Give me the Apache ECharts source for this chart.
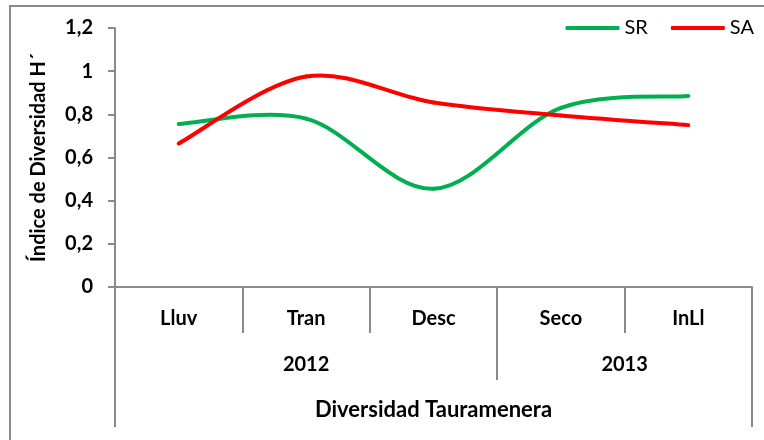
<!DOCTYPE html>
<html>
<head>
<meta charset="utf-8">
<script src="https://cdn.jsdelivr.net/npm/echarts@6/dist/echarts.min.js"></script>
<style>
  html, body { margin: 0; padding: 0; background: #fff; }
  #frame { position: absolute; left: 9px; top: 5px; width: 900px; height: 600px;
           border-left: 2px solid #8a8a8a; border-top: 2px solid #8a8a8a; }
  #chart { position: absolute; left: 0; top: 0; width: 764px; height: 440px; }
</style>
</head>
<body>
<div id="frame"></div>
<div id="chart"></div>
<script>
// datos
const categories = ["Lluv", "Tran", "Desc", "Seco", "InLl"];
const years = ["2012", "2013"];
const yearSpans = [3, 2];
const seriesNames = ["SR", "SA"];
const srValues = [0.755, 0.78, 0.455, 0.83, 0.885];
const saValues = [0.665, 0.975, 0.855, 0.795, 0.75];
const yTickLabels = ["0", "0,2", "0,4", "0,6", "0,8", "1", "1,2"];
const xTitle = "Diversidad Tauramenera";
const yTitle = "Índice de Diversidad H´";

const colors = ["#00B050", "#FF0000"];
const font = "Lato";
const axisColor = "#8a8a8a";

// limites y centros de los grupos de años
let yearBounds = [0];
let yearCenters = [];
yearSpans.forEach(function (s, i) {
  yearCenters.push(yearBounds[i] + s / 2);
  yearBounds.push(yearBounds[i] + s);
});
const total = categories.length;

// curva suavizada tipo Excel (bezier por tramos), usando las escalas del eje
function smoothLine(values, color) {
  return function (params, api) {
    let i = params.dataIndex;
    let n = values.length;
    if (i >= n - 1) return null;
    let p = function (k) {
      k = Math.max(0, Math.min(n - 1, k));
      return api.coord([k, values[k]]);
    };
    let p0 = p(i - 1), p1 = p(i), p2 = p(i + 1), p3 = p(i + 2);
    let c1 = [p1[0] + (p2[0] - p0[0]) / 6, p1[1] + (p2[1] - p0[1]) / 6];
    let c2 = [p2[0] - (p3[0] - p1[0]) / 6, p2[1] - (p3[1] - p1[1]) / 6];
    return {
      type: "path",
      shape: {
        pathData: "M" + p1[0] + " " + p1[1] +
          " C" + c1[0] + " " + c1[1] + " " + c2[0] + " " + c2[1] +
          " " + p2[0] + " " + p2[1]
      },
      style: { fill: null, stroke: color, lineWidth: 4, lineCap: "round" }
    };
  };
}

const eChart = echarts.init(document.getElementById("chart"));

let lineStyleAxis = { color: axisColor, width: 2 };

let option = {
  animation: false,
  grid: {
    left: 115,
    right: 12,
    top: 28,
    bottom: 153,
    outerBoundsMode: "none"
  },
  legend: {
    data: seriesNames,
    right: 5,
    top: 13,
    icon: "roundRect",
    itemWidth: 54,
    itemHeight: 4,
    itemGap: 23,
    textStyle: { fontFamily: font, fontSize: 20, color: "#000" }
  },
  xAxis: [
    {
      type: "category",
      data: categories,
      position: "bottom",
      boundaryGap: true,
      axisLine: { lineStyle: lineStyleAxis },
      axisTick: { show: true, interval: 0, length: 46, lineStyle: lineStyleAxis },
      axisLabel: {
        margin: 22,
        interval: 0,
        fontFamily: font,
        fontSize: 20,
        fontWeight: "bold",
        color: "#000"
      }
    },
    {
      type: "value",
      position: "bottom",
      min: 0,
      max: total,
      axisLine: { show: false },
      splitLine: { show: false },
      axisTick: {
        customValues: yearBounds.slice(1, -1),
        length: 93,
        lineStyle: lineStyleAxis
      },
      axisLabel: {
        customValues: yearCenters,
        margin: 68,
        fontFamily: font,
        fontSize: 20,
        fontWeight: "bold",
        color: "#000",
        formatter: function (v) {
          return years[yearCenters.indexOf(v)];
        }
      }
    },
    {
      type: "value",
      position: "bottom",
      min: 0,
      max: total,
      axisLine: { show: false },
      splitLine: { show: false },
      axisTick: {
        customValues: [0, total],
        length: 140,
        lineStyle: lineStyleAxis
      },
      axisLabel: { show: false },
      name: xTitle,
      nameLocation: "middle",
      nameGap: 112,
      nameTextStyle: {
        fontFamily: font,
        fontSize: 22,
        fontWeight: "bold",
        color: "#000"
      }
    }
  ],
  yAxis: {
    type: "value",
    min: 0,
    max: 1.2,
    interval: 0.2,
    splitLine: { show: false },
    axisLine: { show: true, lineStyle: lineStyleAxis },
    axisTick: { show: true, length: 7, lineStyle: lineStyleAxis },
    axisLabel: {
      margin: 22,
      fontFamily: font,
      fontSize: 20,
      fontWeight: "bold",
      color: "#000",
      formatter: function (value, index) {
        return yTickLabels[index];
      }
    },
    name: yTitle,
    nameLocation: "middle",
    nameGap: 66,
    nameTextStyle: {
      fontFamily: font,
      fontSize: 20,
      fontWeight: "bold",
      color: "#000"
    }
  },
  series: [
    {
      name: seriesNames[0],
      type: "custom",
      data: srValues,
      encode: { x: -1, y: 0 },
      itemStyle: { color: colors[0] },
      renderItem: smoothLine(srValues, colors[0])
    },
    {
      name: seriesNames[1],
      type: "custom",
      data: saValues,
      encode: { x: -1, y: 0 },
      itemStyle: { color: colors[1] },
      renderItem: smoothLine(saValues, colors[1])
    }
  ]
};

eChart.setOption(option);
</script>
</body>
</html>
